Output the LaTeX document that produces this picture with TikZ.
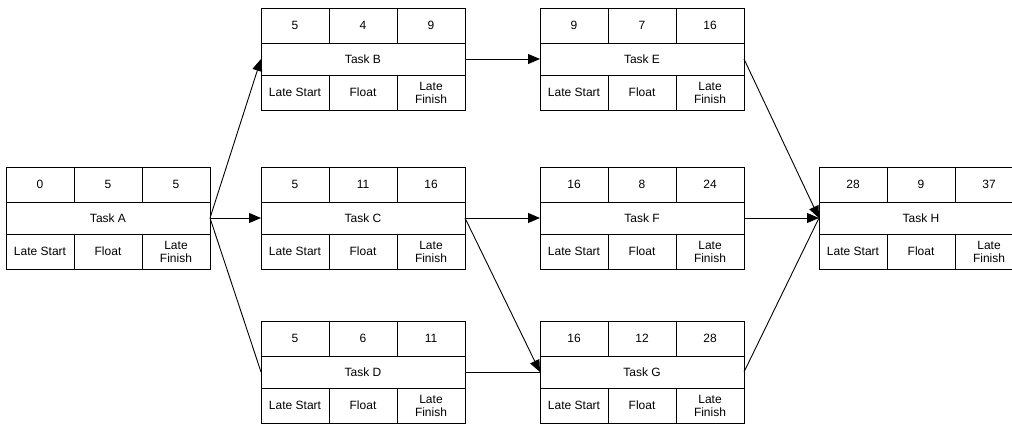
\documentclass[tikz,border=0pt]{standalone}
\usepackage{fontspec}
\setmainfont{Liberation Sans}
\usetikzlibrary{arrows.meta}
\tikzset{
  mid/.style={draw, line width=0.9pt, minimum width=204pt, minimum height=32pt, inner sep=0pt, outer sep=0pt, font=\fontsize{12}{13}\selectfont},
  cell/.style={draw, line width=0.9pt, minimum width=68pt, minimum height=35pt, inner sep=0pt, outer sep=0pt, align=center, font=\fontsize{12}{13}\selectfont},
  arr/.style={line width=0.9pt, -{Triangle[length=12pt,width=10pt]}},
  ln/.style={line width=0.9pt}
}
\newcommand\taskbox[7]{%
  \node[mid] (#1) at (#2,#3) {#7};
  \node[cell, anchor=south west] (#1-es) at (#1.north west) {#4};
  \node[cell, anchor=south] (#1-du) at (#1.north) {#5};
  \node[cell, anchor=south east] (#1-ef) at (#1.north east) {#6};
  \node[cell, anchor=north west] (#1-ls) at (#1.south west) {Late Start};
  \node[cell, anchor=north] (#1-fl) at (#1.south) {Float};
  \node[cell, anchor=north east] (#1-lf) at (#1.south east) {Late\\Finish};
}
\begin{document}
\begin{tikzpicture}[x=1pt,y=-1pt]
\useasboundingbox (0,0) rectangle (1012,425);
\clip (0,0) rectangle (1012,425);
\fill[white] (0,0) rectangle (1012,425);
\taskbox{A}{108}{218}{0}{5}{5}{Task A}
\taskbox{B}{363}{59}{5}{4}{9}{Task B}
\taskbox{C}{363}{218}{5}{11}{16}{Task C}
\taskbox{D}{363}{372}{5}{6}{11}{Task D}
\taskbox{E}{642}{59}{9}{7}{16}{Task E}
\taskbox{F}{642}{218}{16}{8}{24}{Task F}
\taskbox{G}{642}{372}{16}{12}{28}{Task G}
\taskbox{H}{921}{218}{28}{9}{37}{Task H}
\draw[arr] (A.east) -- (B.west);
\draw[arr] (A.east) -- (C.west);
\draw[ln] (A.east) -- (D.west);
\draw[arr] (B.east) -- (E.west);
\draw[arr] (C.east) -- (F.west);
\draw[arr] (C.east) -- (G.west);
\draw[ln] (D.east) -- (G.west);
\draw[arr] (E.east) -- (H.west);
\draw[arr] (F.east) -- (H.west);
\draw[ln] (G.east) -- (H.west);
\end{tikzpicture}
\end{document}
